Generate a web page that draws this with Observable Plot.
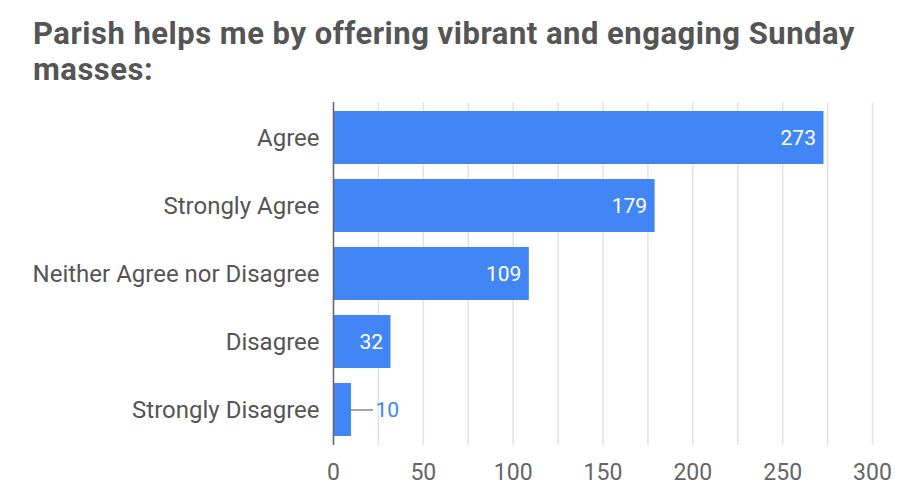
<!DOCTYPE html>
<html>
<head>
<meta charset="utf-8">
<script src="https://cdn.jsdelivr.net/npm/d3@7"></script>
<script src="https://cdn.jsdelivr.net/npm/@observablehq/plot@0.6"></script>
<style>
  html, body { margin: 0; padding: 0; background: #fff; }
  #wrap { position: relative; width: 911px; height: 499px; font-family: Roboto, sans-serif; }
  #title { position: absolute; left: 33px; top: 16px; width: 870px; font-size: 31px; letter-spacing: 0.5px; font-weight: bold; color: #555; line-height: 36px; }
</style>
</head>
<body>
<div id="wrap">
  <div id="title">Parish helps me by offering vibrant and engaging Sunday masses:</div>
</div>
<script>
const categories = ["Agree", "Strongly Agree", "Neither Agree nor Disagree", "Disagree", "Strongly Disagree"];
const counts = [273, 179, 109, 32, 10];
const xTicks = [0, 50, 100, 150, 200, 250, 300];
const gridTicks = [0, 25, 50, 75, 100, 125, 150, 175, 200, 225, 250, 275, 300];

const data = categories.map((c, i) => ({category: c, value: counts[i]}));
const inside = data.filter(d => d.value >= 20);
const outside = data.filter(d => d.value < 20);
const blue = "#4285F4";

const chart = Plot.plot({
  width: 911,
  height: 499,
  marginLeft: 333,
  marginRight: 39,
  marginTop: 102,
  marginBottom: 54,
  style: { fontFamily: "Roboto, sans-serif", background: "#fff" },
  x: { domain: [0, 300] },
  y: { domain: categories, paddingInner: 0.225, paddingOuter: 0.115, label: null },
  marks: [
    Plot.ruleX(gridTicks, { stroke: "#e3e3e3", strokeWidth: 1.5 }),
    Plot.barX(data, { x: "value", y: "category", fill: blue }),
    Plot.ruleX([0], { stroke: "#666", strokeWidth: 1.5 }),
    Plot.text(inside, { x: "value", y: "category", text: d => String(d.value), textAnchor: "end", dx: -8, fill: "#fff", fontSize: 21 }),
    Plot.ruleY(outside, { x1: "value", x2: "value", y: "category", stroke: "#888", strokeWidth: 1.5, insetRight: -22 }),
    Plot.text(outside, { x: "value", y: "category", text: d => String(d.value), textAnchor: "start", dx: 24, fill: blue, fontSize: 21 }),
    Plot.axisX(xTicks, { tickSize: 0, tickPadding: 18, fontSize: 23, fill: "#666", label: null }),
    Plot.axisY({ tickSize: 0, tickPadding: 14, fontSize: 24, fill: "#555", label: null })
  ]
});
chart.style.position = "absolute";
chart.style.left = "0";
chart.style.top = "0";
const wrap = document.getElementById("wrap");
wrap.insertBefore(chart, wrap.firstChild);
</script>
</body>
</html>
